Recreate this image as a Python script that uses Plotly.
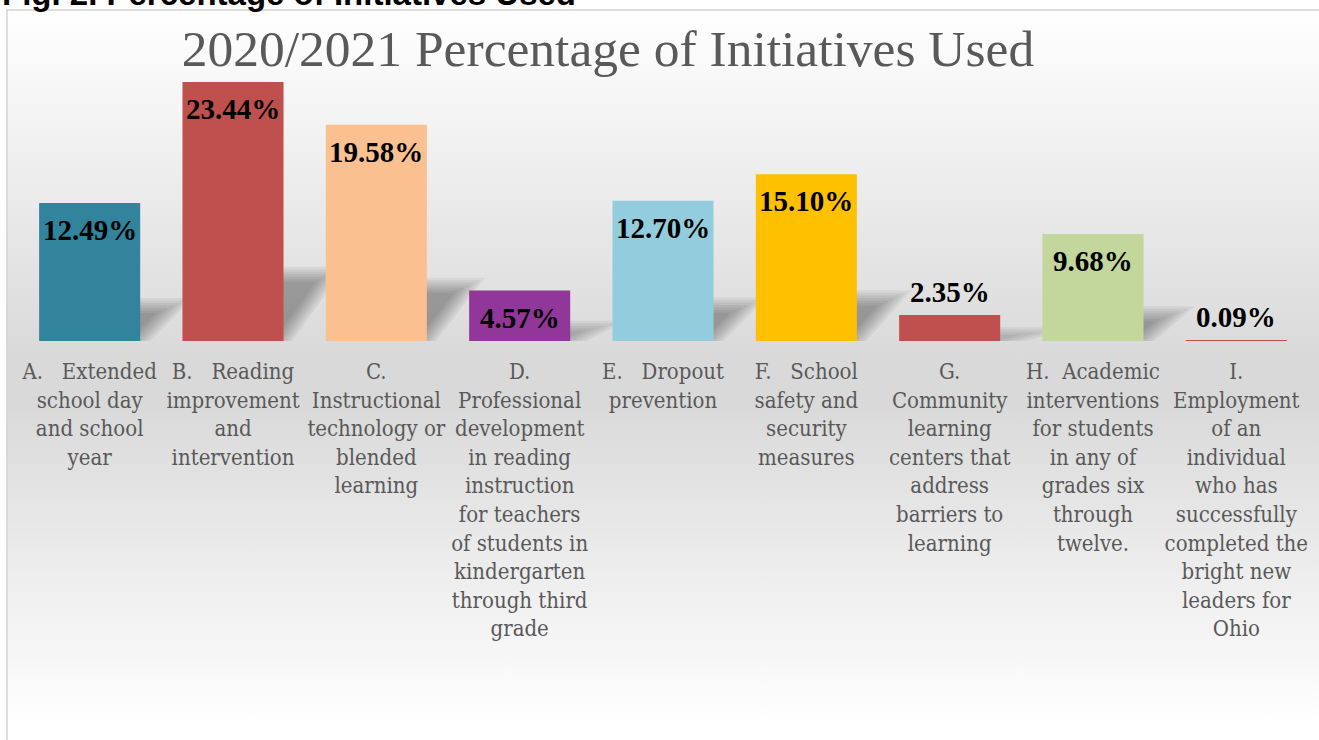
import base64
import math
import plotly.graph_objects as go

# ---- data ----
categories = ["A", "B", "C", "D", "E", "F", "G", "H", "I"]
values = [12.49, 23.44, 19.58, 4.57, 12.70, 15.10, 2.35, 9.68, 0.09]
tick_labels = [
    "A.\u00a0\u00a0\u00a0Extended<br>school day<br>and school<br>year",
    "B.\u00a0\u00a0\u00a0Reading<br>improvement<br>and<br>intervention",
    "C.<br>Instructional<br>technology or<br>blended<br>learning",
    "D.<br>Professional<br>development<br>in reading<br>instruction<br>for teachers<br>of students in<br>kindergarten<br>through third<br>grade",
    "E.\u00a0\u00a0\u00a0Dropout<br>prevention",
    "F.\u00a0\u00a0\u00a0School<br>safety and<br>security<br>measures",
    "G.<br>Community<br>learning<br>centers that<br>address<br>barriers to<br>learning",
    "H.\u00a0\u00a0Academic<br>interventions<br>for students<br>in any of<br>grades six<br>through<br>twelve.",
    "I.<br>Employment<br>of an<br>individual<br>who has<br>successfully<br>completed the<br>bright new<br>leaders for<br>Ohio",
]
colors = ["#31849B", "#C0504D", "#FAC090", "#913799", "#93CDDD",
          "#FFC000", "#C0504D", "#C3D69B", "#C0504D"]

title_text = "2020/2021 Percentage of Initiatives Used"
header_text = "Fig. 2. Percentage of Initiatives Used"

# ---- layout geometry (pixels) ----
W, H = 1319, 740
ML, MR, MT, MB = 18, 11, 20, 399
PW = W - ML - MR
PH = H - MT - MB
YMAX = 29.05
BAR_W = 0.705
PXU = PW / len(categories)   # pixels per x unit
PYU = PH / YMAX              # pixels per y unit


def pxx(px):
    return (px - ML) / PW


def pxy(py):
    return (H - MB - py) / PH


xpos = list(range(len(categories)))

fig = go.Figure()
fig.add_trace(go.Bar(
    x=xpos, y=values, width=BAR_W,
    marker=dict(color=colors, line=dict(width=0)),
    customdata=categories,
    showlegend=False,
    hovertemplate="%{customdata}: %{y:.2f}%<extra></extra>"))

annotations = []
for xi, v in zip(xpos, values):
    annotations.append(dict(
        x=xi, y=v, xref="x", yref="y",
        text=f"<b>{v:.2f}%</b>", showarrow=False,
        yanchor="middle", xanchor="center",
        yshift=-27 if v > 4 else 23,
        font=dict(family="Liberation Serif", size=29, color="#000000"),
    ))

# cropped document caption at the very top
annotations.append(dict(
    x=pxx(0), y=pxy(-7), xref="paper", yref="paper",
    xanchor="left", yanchor="middle", showarrow=False,
    text=f"<b>{header_text}</b>",
    font=dict(family="Liberation Sans", size=33, color="#000000")))

# soft, blurred perspective shadows (drawn beneath the bars):
# stacked inset/outset copies of a skewed parallelogram
shapes = []
insets = [-7, -4.5, -2, 0.5, 3, 5.5, 8]
for xi, v in zip(xpos, values):
    Hp = 0.26 * v * PYU
    Dp = (0.15 + 0.008 * v) * PXU
    if Hp < 4:
        continue
    L = (xi - BAR_W / 2) * PXU
    R = (xi + BAR_W / 2) * PXU
    ln = math.hypot(Hp, Dp)
    for t in insets:
        yb = max(t, 0.0)
        yt = Hp - t
        if yt - yb < 1:
            continue
        s = t * ln / Hp
        pts = [(L, yb), (R + Dp * yb / Hp - s, yb),
               (R + Dp * yt / Hp - s, yt), (L + Dp * yt / Hp, yt)]
        path = "M " + " L ".join(f"{px / PXU:.4f},{py / PYU:.4f}" for px, py in pts) + " Z"
        shapes.append(dict(
            type="path", xref="x", yref="y", layer="below", path=path,
            fillcolor="rgba(0,0,0,0.05)", line=dict(width=0)))

shapes.append(dict(type="rect", xref="paper", yref="paper",
                   x0=pxx(7), x1=pxx(1340), y0=pxy(10), y1=pxy(760),
                   line=dict(color="#d4d4d4", width=1.5), fillcolor="rgba(0,0,0,0)",
                   layer="above"))

svg = ('<svg xmlns="http://www.w3.org/2000/svg" width="100" height="100" '
       'viewBox="0 0 100 100" preserveAspectRatio="none">'
       '<defs><linearGradient id="g" x1="0" y1="0" x2="0" y2="1">'
       '<stop offset="0" stop-color="#ffffff"/>'
       '<stop offset="0.476" stop-color="#d9d9d9"/>'
       '<stop offset="0.53" stop-color="#d9d9d9"/>'
       '<stop offset="0.966" stop-color="#ffffff"/>'
       '<stop offset="1" stop-color="#ffffff"/>'
       '</linearGradient></defs>'
       '<rect x="0" y="0" width="100" height="100" fill="url(#g)"/></svg>')
src = "data:image/svg+xml;base64," + base64.b64encode(svg.encode()).decode()

fig.update_layout(
    width=W, height=H,
    margin=dict(l=ML, r=MR, t=MT, b=MB, autoexpand=False),
    paper_bgcolor="#ffffff",
    plot_bgcolor="rgba(0,0,0,0)",
    title=dict(text=title_text, x=608 / W, xanchor="center",
               y=1 - 48 / H, yanchor="middle", xref="container", yref="container",
               font=dict(family="Liberation Serif", size=51.5, color="#595959")),
    xaxis=dict(
        tickmode="array", tickvals=xpos, ticktext=tick_labels,
        range=[-0.5, len(categories) - 0.5],
        showgrid=False, zeroline=False, showline=False, ticks="",
        ticklabelstandoff=15, automargin=False,
        tickfont=dict(family="DejaVu Serif Condensed, DejaVu Serif", size=22, color="#595959"),
        fixedrange=True,
    ),
    yaxis=dict(range=[0, YMAX], visible=False, fixedrange=True),
    annotations=annotations,
    images=[dict(source=src, xref="paper", yref="paper",
                 x=pxx(7), y=pxy(10), sizex=(1340 - 7) / PW, sizey=(750 - 10) / PH,
                 xanchor="left", yanchor="top", sizing="stretch", layer="below")],
    shapes=shapes,
    showlegend=False,
)

fig.write_html(
    "out.html",
    config={"displayModeBar": False},
    post_script="document.body.style.margin='0';document.body.style.overflow='hidden';",
)
